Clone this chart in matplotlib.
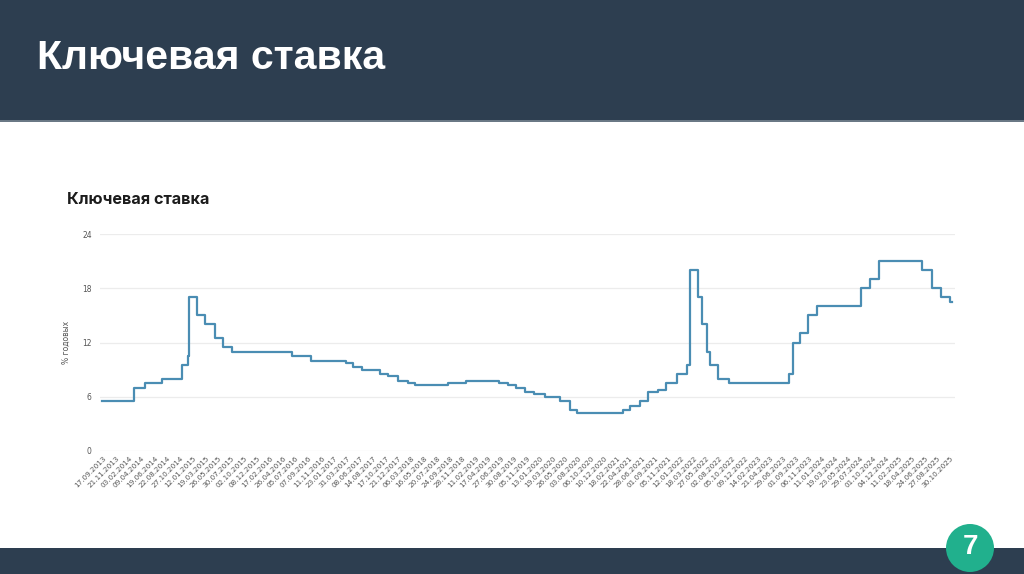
import numpy as np
import pandas as pd
import matplotlib
matplotlib.use("Agg")
import matplotlib.pyplot as plt
from matplotlib.patches import Rectangle, Ellipse
import matplotlib.dates as mdates

# ---- data ----
change_dates = ["2013-09-13", "2014-03-03", "2014-04-28", "2014-07-28", "2014-11-05",
                "2014-12-12", "2014-12-16", "2015-02-02", "2015-03-16", "2015-05-05",
                "2015-06-16", "2015-08-03", "2016-06-14", "2016-09-19", "2017-03-27",
                "2017-05-02", "2017-06-19", "2017-09-18", "2017-10-30", "2017-12-18",
                "2018-02-12", "2018-03-26", "2018-09-17", "2018-12-17", "2019-06-17",
                "2019-07-29", "2019-09-09", "2019-10-28", "2019-12-16", "2020-02-10",
                "2020-04-27", "2020-06-22", "2020-07-27", "2021-03-22", "2021-04-26",
                "2021-06-15", "2021-07-26", "2021-09-13", "2021-10-25", "2021-12-20",
                "2022-02-14", "2022-02-28", "2022-04-11", "2022-05-04", "2022-05-27",
                "2022-06-14", "2022-07-25", "2022-09-19", "2023-07-24", "2023-08-15",
                "2023-09-18", "2023-10-30", "2023-12-18", "2024-07-29", "2024-09-16",
                "2024-10-28", "2025-06-09", "2025-07-28", "2025-09-15", "2025-10-27",
                "2025-11-05"]
rates = [5.5, 7.0, 7.5, 8.0, 9.5,
         10.5, 17.0, 15.0, 14.0, 12.5,
         11.5, 11.0, 10.5, 10.0, 9.75,
         9.25, 9.0, 8.5, 8.25, 7.75,
         7.5, 7.25, 7.5, 7.75, 7.5,
         7.25, 7.0, 6.5, 6.25, 6.0,
         5.5, 4.5, 4.25, 4.5, 5.0,
         5.5, 6.5, 6.75, 7.5, 8.5,
         9.5, 20.0, 17.0, 14.0, 11.0,
         9.5, 8.0, 7.5, 8.5, 12.0,
         13.0, 15.0, 16.0, 18.0, 19.0,
         21.0, 20.0, 18.0, 17.0, 16.5,
         16.5]

tick_labels = ["17.09.2013", "21.11.2013", "03.02.2014", "09.04.2014", "19.06.2014",
               "22.08.2014", "27.10.2014", "12.01.2015", "19.03.2015", "26.05.2015",
               "30.07.2015", "02.10.2015", "08.12.2015", "17.02.2016", "26.04.2016",
               "05.07.2016", "07.09.2016", "11.11.2016", "23.01.2017", "31.03.2017",
               "08.06.2017", "14.08.2017", "17.10.2017", "21.12.2017", "06.03.2018",
               "16.05.2018", "20.07.2018", "24.09.2018", "28.11.2018", "11.02.2019",
               "17.04.2019", "27.06.2019", "30.08.2019", "05.11.2019", "13.01.2020",
               "19.03.2020", "26.05.2020", "03.08.2020", "06.10.2020", "10.12.2020",
               "18.02.2021", "22.04.2021", "28.06.2021", "01.09.2021", "05.11.2021",
               "12.01.2022", "18.03.2022", "27.05.2022", "02.08.2022", "05.10.2022",
               "09.12.2022", "14.02.2023", "21.04.2023", "29.06.2023", "01.09.2023",
               "06.11.2023", "11.01.2024", "19.03.2024", "23.05.2024", "29.07.2024",
               "01.10.2024", "04.12.2024", "11.02.2025", "18.04.2025", "24.06.2025",
               "27.08.2025", "30.10.2025"]
y_ticks = [0, 6, 12, 18, 24]

# ---- scale: evenly spaced tick dates (trading-day style axis) ----
x_dates = mdates.date2num(pd.to_datetime(change_dates))
tick_num = mdates.date2num(pd.to_datetime(tick_labels, format="%d.%m.%Y"))
idx = np.arange(len(tick_num), dtype=float)
s0 = 1.0 / (tick_num[1] - tick_num[0])
s1 = 1.0 / (tick_num[-1] - tick_num[-2])


def fwd(v):
    v = np.asarray(v, dtype=float)
    out = np.interp(v, tick_num, idx)
    out = np.where(v < tick_num[0], (v - tick_num[0]) * s0, out)
    out = np.where(v > tick_num[-1], idx[-1] + (v - tick_num[-1]) * s1, out)
    return out


def inv(u):
    u = np.asarray(u, dtype=float)
    out = np.interp(u, idx, tick_num)
    out = np.where(u < 0, tick_num[0] + u / s0, out)
    out = np.where(u > idx[-1], tick_num[-1] + (u - idx[-1]) / s1, out)
    return out


# ---- figure ----
W, H = 1024, 574
fig = plt.figure(figsize=(W / 100, H / 100), dpi=100)
fig.patch.set_facecolor("white")

dark = "#2d3e50"
fig.add_artist(Rectangle((0, 1 - 120 / H), 1, 120 / H, transform=fig.transFigure,
                         facecolor=dark, edgecolor="none", zorder=0))
fig.add_artist(Rectangle((0, 1 - 122 / H), 1, 2 / H, transform=fig.transFigure,
                         facecolor="#6a7885", edgecolor="none", zorder=0))
fig.add_artist(Rectangle((0, 0), 1, 26 / H, transform=fig.transFigure,
                         facecolor=dark, edgecolor="none", zorder=0))
fig.text(37 / W, 1 - 58 / H, "Ключевая ставка", color="white", fontsize=29.5,
         fontweight="bold", family="Liberation Sans", ha="left", va="center")

# page number circle
cx, cy, r = 970, 548, 24
fig.add_artist(Ellipse((cx / W, 1 - cy / H), 2 * r / W, 2 * r / H, transform=fig.transFigure,
                       facecolor="#21b08d", edgecolor="none", zorder=5))
fig.text(cx / W, 1 - (cy - 1) / H, "7", color="white", fontsize=20, fontweight="bold",
         family="Liberation Sans", ha="center", va="center", zorder=6)

# chart title
fig.text(67 / W, 1 - 200 / H, "Ключевая ставка", color="#1c1c1c", fontsize=11.7,
         fontweight="bold", family="Inter", ha="left", va="center")

ax = fig.add_axes([100 / W, 1 - 451 / H, 855 / W, 217 / H])
ax.set_xscale("function", functions=(fwd, inv))
ax.step(x_dates, rates, where="post", color="#4a8db3", lw=1.6, zorder=3)
ax.set_xlim(inv(-0.25), inv(66.35))
ax.set_ylim(0, 24)
ax.set_yticks(y_ticks)
ax.set_yticklabels([str(v) for v in y_ticks])
ax.set_xticks(tick_num)
ax.set_xticklabels(tick_labels, rotation=45, ha="right", rotation_mode="anchor")
ax.xaxis.set_minor_locator(matplotlib.ticker.NullLocator())
ax.tick_params(axis="x", length=0, pad=3, labelsize=5.2, labelcolor="#555555")
ax.tick_params(axis="y", length=0, pad=6, labelsize=5.5, labelcolor="#555555")
for sp in ax.spines.values():
    sp.set_visible(False)
ax.grid(axis="y", color="#ececec", lw=0.9, zorder=0)
ax.grid(axis="x", visible=False)
ax.set_ylabel("% годовых", fontsize=5.5, color="#555555")
ax.yaxis.set_label_coords(-0.0345, 0.5)

fig.savefig("out.png", dpi=100, facecolor="white")
